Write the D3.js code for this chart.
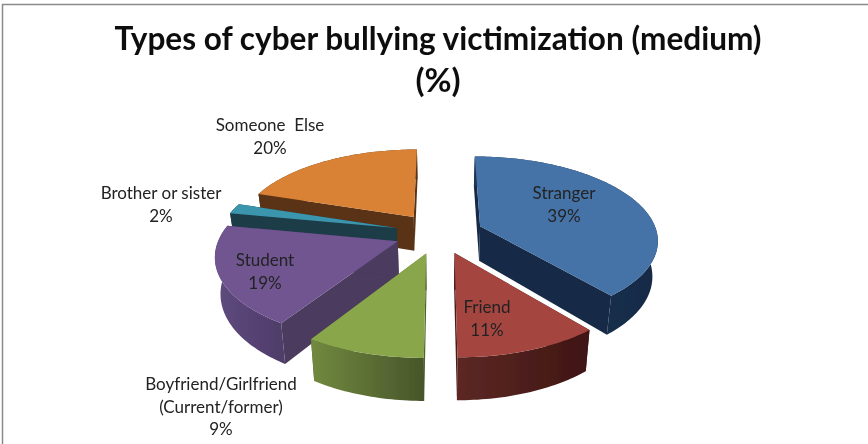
<!DOCTYPE html>
<html><head><meta charset="utf-8">
<script src="https://cdn.jsdelivr.net/npm/d3@7"></script>
<style>html,body{margin:0;padding:0;background:#fff}svg{display:block}text{font-family:Lato,"Open Sans",sans-serif;fill:#222;white-space:pre}</style>
</head><body><svg id="c" width="868" height="444"></svg>
<script>
const categories = ["Stranger","Friend","Boyfriend/Girlfriend (Current/former)","Student","Brother or sister","Someone Else"];
const values = [39,11,9,19,2,20];
const topColors = ["#4573a7","#a5453f","#8aa64b","#6f5590","#3b95ad","#d98136"];
const radialColors = ["#172b46","#4a1a16","#4f6230","#4b3a5e","#1b3c46","#5a3316"];
const wallStart = ["#1d3556","#5c2824","#71893f","#5f4a7f","#1b3c46","#5a3316"];
const wallEnd = ["#172b46","#3f1513","#47562a","#4f3d6a","#1b3c46","#5a3316"];
const labelLines = [["Stranger","39%"],["Friend","11%"],["Boyfriend/Girlfriend","(Current/former)","9%"],["Student","19%"],["Brother or sister","2%"],["Someone  Else","20%"]];
const labelX = [564,487,221,265,161,270];
const labelY = [199,313,390,266,199,131];
const titleLines = ["Types of cyber bullying victimization (medium)","(%)"];

const svg = d3.select("#c");
const cx=439, cy=233, R=177, A=82, D=35, p=0.15, q=0.025, explode=0.25;
const project = (X,Y,z) => { const f=1/(1-p*Y); return [cx+R*X*f*(1-q*z), cy+(A*Y+D*z)*f]; };
const pie = d3.pie().sort(null).startAngle(0).endAngle(2*Math.PI);
const arcs = pie(values).map((d,i)=>{
  const a0=d.startAngle-Math.PI/2, a1=d.endAngle-Math.PI/2, m=(a0+a1)/2;
  return {i,a0,a1,m,ox:explode*Math.cos(m),oy:explode*Math.sin(m)};
});
const line=d3.line();
const arcPts=(s,z,rev)=>{
  const n=Math.max(3,Math.ceil((s.a1-s.a0)/0.02));
  const pts=d3.range(n+1).map(k=>{const a=s.a0+(s.a1-s.a0)*k/n;return project(s.ox+Math.cos(a),s.oy+Math.sin(a),z);});
  return rev?pts.reverse():pts;
};
const defs=svg.append("defs");
defs.append("filter").attr("id","soft").append("feGaussianBlur").attr("stdDeviation",0.55);
defs.append("filter").attr("id","softText").append("feGaussianBlur").attr("stdDeviation",0.3);
arcs.forEach(s=>{
  const pts=arcPts(s,0), xs=pts.map(d=>d[0]);
  const g=defs.append("linearGradient").attr("id","w"+s.i).attr("gradientUnits","userSpaceOnUse")
    .attr("x1",d3.min(xs)).attr("x2",d3.max(xs)).attr("y1",0).attr("y2",0);
  g.append("stop").attr("offset",0).attr("stop-color",wallStart[s.i]);
  g.append("stop").attr("offset",1).attr("stop-color",wallEnd[s.i]);
});
// frame
svg.append("path").attr("d","M2.5,444V4.5H868").attr("fill","none").attr("stroke","#8a8a8a").attr("stroke-width",1.5);

const gp=svg.append("g").attr("filter","url(#soft)");
const order=arcs.slice().sort((a,b)=>d3.ascending(Math.sin(a.m),Math.sin(b.m)));
order.forEach(s=>{
  const c0=project(s.ox,s.oy,0), c1=project(s.ox,s.oy,1);
  const pa=[s.ox+Math.cos(s.a0),s.oy+Math.sin(s.a0)], pb=[s.ox+Math.cos(s.a1),s.oy+Math.sin(s.a1)];
  [pa,pb].forEach(q2=>{
    gp.append("path").attr("d",line([c0,project(q2[0],q2[1],0),project(q2[0],q2[1],1),c1])+"Z").attr("fill",radialColors[s.i]);
  });
  gp.append("path").attr("d",line(arcPts(s,0).concat(arcPts(s,1,true)))+"Z").attr("fill",`url(#w${s.i})`);
  gp.append("path").attr("d",line([c0].concat(arcPts(s,0)))+"Z").attr("fill",topColors[s.i]);
});
const gt=svg.append("g").attr("filter","url(#softText)");
titleLines.forEach((t,i)=>gt.append("text").attr("x",438).attr("y",50+i*42).attr("text-anchor","middle")
  .attr("font-size",33).attr("font-weight",700).style("fill","#111").attr("textLength",i==0?647:null).attr("lengthAdjust","spacingAndGlyphs").text(t));
labelLines.forEach((ls,i)=>ls.forEach((t,j)=>gt.append("text").attr("x",labelX[i]).attr("y",labelY[i]+j*22.5)
  .attr("text-anchor","middle").attr("font-size",17).text(t)));
</script></body></html>
